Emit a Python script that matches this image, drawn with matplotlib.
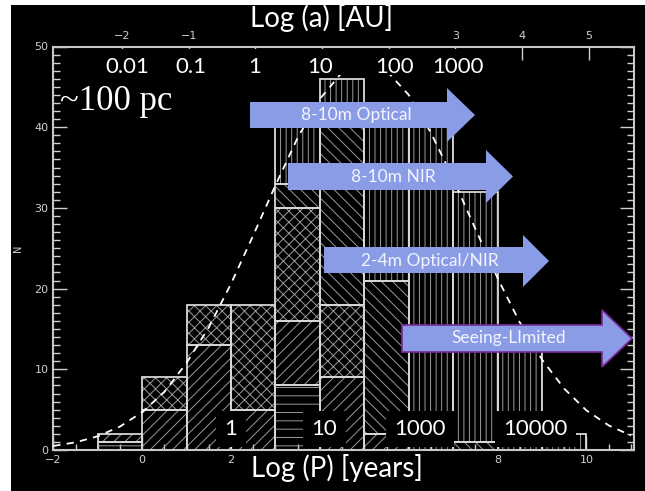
import numpy as np
import matplotlib.pyplot as plt
from matplotlib.patches import Polygon, Rectangle

W, H = 645, 491

# stacked histogram in log P, one list per hatch layer (bins of width 1)
bin_left = [-1, 0, 1, 2, 3, 4, 5, 6, 7, 8, 9]
n_horiz = [1, 0, 0, 0, 8, 0, 0, 0, 0, 0, 0]
n_fwd = [1, 5, 13, 5, 8, 9, 2, 0, 0, 0, 0]
n_cross = [0, 4, 5, 13, 14, 9, 0, 0, 0, 0, 0]
n_back = [0, 0, 0, 0, 3, 23, 19, 0, 1, 0, 0]
n_vert = [0, 0, 0, 0, 8, 5, 20, 41, 31, 14, 2]

# dashed fit curve
fit_x = [-2, -1.5, -1, -0.5, 0, 0.5, 1, 1.5, 2, 2.5, 3, 3.5, 4, 4.5, 5,
         5.5, 6, 6.5, 7, 7.5, 8, 8.5, 9, 9.5, 10, 10.5, 11]
fit_y = [0.5, 0.95, 1.7, 2.9, 4.7, 7.2, 10.8, 15.2, 20.6, 26.6, 32.8, 38.7, 43.5, 46.8, 48.0,
         47.0, 44.0, 39.3, 33.6, 27.4, 21.3, 15.8, 11.2, 7.6, 4.9, 3.05, 1.8]

bottom_ticks = [-2, 0, 2, 4, 6, 8, 10]
bottom_ticklabels = ['\u22122', '0', '2', '', '', '8', '10']
top_ticks = [-2, -1, 0, 1, 2, 3, 4, 5]
top_ticklabels = ['\u22122', '\u22121', '', '', '', '3', '4', '5']
a_offset = 2.55  # log P = 1.5 log a + offset

sep_labels = ['0.01', '0.1', '1', '10', '100', '1000']
sep_px = [127, 191, 255, 320, 395, 458]
period_labels = ['1', '10', '1000', '10000']
period_pos = [2.0, 4.1, 6.25, 8.85]

arrow_labels = ['8-10m Optical', '8-10m NIR', '2-4m Optical/NIR', 'Seeing-LImited']
# tail, body top, body bottom, head start, tip, head top, head bottom, text x  (pixels)
arrow_geom = [
    (250, 102, 128, 447, 475, 88, 142, 356),
    (288, 163, 190, 486, 513, 150, 203, 393),
    (324, 247, 273, 523, 549, 235, 287, 430),
    (402, 325, 352, 602, 632, 310, 367, 509),
]
arrow_edge = ['none', 'none', 'none', '#7a2a9a']


def px(x, y):
    return (x / W, 1 - y / H)


plt.rcParams['hatch.linewidth'] = 0.7
fig = plt.figure(figsize=(W / 100, H / 100), dpi=100)
fig.patch.set_facecolor('white')
fig.patches.append(Rectangle(px(11, H), (W - 11) / W, (H - 5) / H, transform=fig.transFigure,
                             facecolor='black', edgecolor='none', zorder=-10))

ax = fig.add_axes([53.3 / W, 1 - 450 / H, (634 - 53.3) / W, (450 - 46.5) / H])
ax.set_facecolor('black')

layers = [(n_horiz, '--'), (n_fwd, '///'), (n_cross, 'xxx'), (n_back, '\\\\\\'), (n_vert, '|||')]
bottom = np.zeros(len(bin_left))
for counts, hatch in layers:
    counts = np.array(counts, dtype=float)
    keep = counts > 0
    left = np.array(bin_left)[keep]
    ax.bar(left, counts[keep], width=1, bottom=bottom[keep], align='edge',
           facecolor='none', edgecolor='#9a9a9a', linewidth=0, hatch=hatch, zorder=2)
    ax.bar(left, counts[keep], width=1, bottom=bottom[keep], align='edge',
           facecolor='none', edgecolor='#d8d8d8', linewidth=1.3, zorder=2.5)
    bottom += counts

ax.plot(fit_x, fit_y, color='white', linestyle=(0, (4, 3.5)), linewidth=1.3, zorder=3)

for lab, x in zip(period_labels, period_pos):
    ax.text(x, 2.6, lab, color='white', fontsize=16, family='Lato', ha='center', va='center',
            zorder=4, bbox=dict(facecolor='black', edgecolor='none', pad=6))

ax.set_xlim(-2, 11.07)
ax.set_ylim(0, 50)
ax.set_xticks(bottom_ticks)
ax.set_xticklabels(bottom_ticklabels)
ax.set_xticks(np.arange(-2, 11.01, 0.5), minor=True)
ax.set_yticks(range(0, 51, 10))
ax.set_yticks(range(0, 51), minor=True)
ax.tick_params(which='both', direction='in', colors='#d0d0d0', labelsize=8,
               left=True, right=True, bottom=True, top=False)
ax.tick_params(which='major', length=10, width=1)
ax.tick_params(which='minor', length=5, width=1)
ax.tick_params(axis='x', which='minor', length=4)
for s in ax.spines.values():
    s.set_color('#c8c8c8')
    s.set_linewidth(1.5)
ax.set_ylabel('N', color='#d0d0d0', fontsize=7, labelpad=8)

top = ax.secondary_xaxis('top', functions=(lambda p: (p - a_offset) / 1.5,
                                           lambda a: 1.5 * a + a_offset))
top.set_xticks(top_ticks)
top.set_xticklabels(top_ticklabels)
top.tick_params(direction='in', colors='#d0d0d0', labelsize=8, length=10, width=1, pad=4)
top.spines['top'].set_visible(False)

# overlaid labels
fig.text(*px(322, 18), 'Log (a) [AU]', color='white', fontsize=20, family='Lato',
         ha='center', va='center', zorder=6)
fig.text(*px(337, 468), 'Log (P) [years]', color='white', fontsize=20, family='Lato',
         ha='center', va='center', zorder=6)
fig.patches.append(Rectangle(px(98, 75), 390 / W, 26 / H, transform=fig.transFigure,
                             facecolor='black', edgecolor='none', zorder=5))
for lab, x in zip(sep_labels, sep_px):
    fig.text(*px(x, 67), lab, color='white', fontsize=16, family='Lato',
             ha='center', va='center', zorder=6)
fig.text(*px(60, 102), '~100 pc', color='white', fontsize=25, family='Liberation Serif',
         ha='left', va='center', zorder=6)

for lab, g, ec in zip(arrow_labels, arrow_geom, arrow_edge):
    tail, bt, bb, hx, tip, ht, hb, tx = g
    mid = (ht + hb) / 2
    pts = [px(tail, bt), px(hx, bt), px(hx, ht), px(tip, mid), px(hx, hb), px(hx, bb), px(tail, bb)]
    fig.patches.append(Polygon(pts, closed=True, transform=fig.transFigure,
                               facecolor='#8a9ce6', edgecolor=ec, linewidth=1.2, zorder=7))
    fig.text(*px(tx, mid), lab, color='#f4f4ff', fontsize=12.5, family='Lato',
             ha='center', va='center', zorder=8)

fig.savefig('out.png', dpi=100, facecolor=fig.get_facecolor())
